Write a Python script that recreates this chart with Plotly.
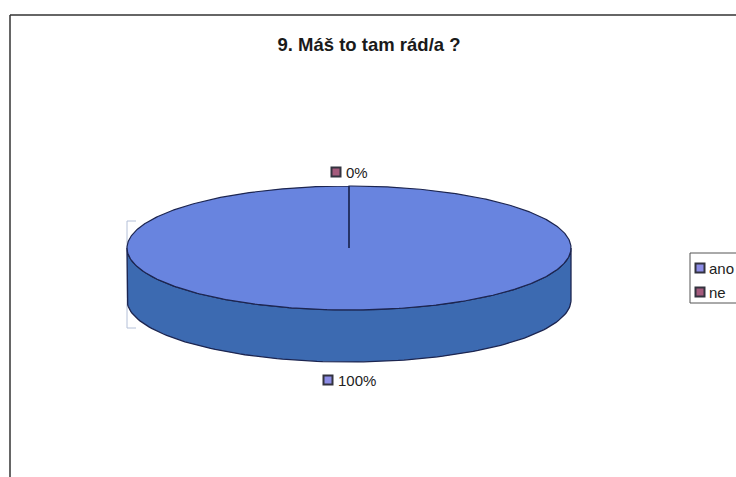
import numpy as np
import plotly.graph_objects as go

# survey answers
labels = ["ano", "ne"]
values = [100, 0]
title_text = "9. Máš to tam rád/a ?"

# slice styling
top_colors = ["#6884df", "#993366"]
side_colors = ["#3c6ab1", "#6a2347"]
key_colors = ["#8c8ce6", "#a45a7c"]
edge_color = "#1c2550"
font_family = "Liberation Sans, Arial"

W, H = 736, 477
cx, cy = 349, 248      # centre of the pie's top face (px)
rx, ry = 222, 62       # ellipse radii of the tilted disc
depth = 52             # thickness of the disc


def pt(theta_deg, dy=0.0):
    """Point on the rim, angle measured clockwise from 12 o'clock."""
    t = np.radians(theta_deg)
    return cx + rx * np.sin(t), cy - ry * np.cos(t) + dy


def key_marker(x, y, color):
    return go.Scatter(
        x=[x], y=[y], mode="markers",
        marker=dict(symbol="square", size=9, color=color,
                    line=dict(color="#33333f", width=2)),
        hoverinfo="skip", showlegend=False)


fig = go.Figure()

total = float(sum(values))
angles = np.cumsum([0] + [v / total * 360 for v in values])

# side walls (only the front half of the rim is visible)
for i, lab in enumerate(labels):
    a0, a1 = angles[i], angles[i + 1]
    lo, hi = max(a0, 90), min(a1, 270)
    if hi <= lo:
        continue
    th = np.linspace(lo, hi, 120)
    xs_top, ys_top = pt(th)
    xs_bot, ys_bot = pt(th[::-1], depth)
    xs = np.concatenate([xs_top, xs_bot, xs_top[:1]])
    ys = np.concatenate([ys_top, ys_bot, ys_top[:1]])
    fig.add_trace(go.Scatter(
        x=xs, y=ys, mode="lines", fill="toself",
        fillcolor=side_colors[i],
        line=dict(color=edge_color, width=1.3),
        hoverinfo="skip", showlegend=False))

# top faces of the slices
for i, lab in enumerate(labels):
    a0, a1 = angles[i], angles[i + 1]
    th = np.linspace(a0, a1, max(2, int((a1 - a0) * 1.5)))
    xs, ys = pt(th)
    xs = np.concatenate([[cx], xs, [cx]])
    ys = np.concatenate([[cy], ys, [cy]])
    fig.add_trace(go.Scatter(
        x=xs, y=ys, mode="lines", fill="toself",
        fillcolor=top_colors[i],
        line=dict(color=edge_color, width=1.2),
        hoverinfo="skip", showlegend=False))

# percentage labels placed outside each slice's middle
annotations = []
for i, lab in enumerate(labels):
    mid = (angles[i] + angles[i + 1]) / 2
    pct = "{:.0f}%".format(values[i] / total * 100)
    c = np.cos(np.radians(mid))
    ly = cy - ry - 14 if c >= 0 else cy + ry + depth + 18
    text_w = 8.0 * len(pct)
    kx = cx + 4 - text_w / 2 - 9
    fig.add_trace(key_marker(kx, ly, key_colors[i]))
    annotations.append(dict(
        x=kx + 8, y=ly, xref="x", yref="y", text=pct, showarrow=False,
        xanchor="left", yanchor="middle",
        font=dict(family=font_family, size=15, color="#222222")))

# legend box with one key per answer
leg_x, leg_y, leg_row = 690, 253, 24
for i, lab in enumerate(labels):
    ry_i = leg_y + 15 + i * leg_row
    fig.add_trace(key_marker(leg_x + 10, ry_i, key_colors[i]))
    annotations.append(dict(
        x=leg_x + 17, y=ry_i, xref="x", yref="y", text=lab, showarrow=False,
        xanchor="left", yanchor="middle",
        font=dict(family=font_family, size=15, color="#222222")))

shapes = [
    # chart-area frame
    dict(type="line", x0=10, y0=15, x1=W, y1=15, xref="x", yref="y",
         line=dict(color="#333333", width=1.5)),
    dict(type="line", x0=10, y0=15, x1=10, y1=H, xref="x", yref="y",
         line=dict(color="#333333", width=1.5)),
    # plot-area corner marks
    dict(type="path", path="M 136 221 L 127 221 L 127 328 L 136 328",
         xref="x", yref="y", line=dict(color="#b4c0d8", width=1), layer="below"),
    # legend frame
    dict(type="rect", x0=leg_x, y0=leg_y, x1=W + 20, y1=leg_y + 50,
         xref="x", yref="y", line=dict(color="#555555", width=1),
         fillcolor="white", layer="below"),
]

fig.update_layout(
    width=W, height=H,
    margin=dict(l=0, r=0, t=0, b=0, autoexpand=False),
    paper_bgcolor="white", plot_bgcolor="white",
    xaxis=dict(range=[0, W], visible=False, fixedrange=True),
    yaxis=dict(range=[H, 0], visible=False, fixedrange=True),
    title=dict(text="<b>" + title_text + "</b>", x=369 / W, y=1 - 45 / H,
               xanchor="center", yanchor="middle",
               font=dict(family=font_family, size=18.5, color="#1a1a1a")),
    showlegend=False,
    shapes=shapes,
    annotations=annotations,
)

fig.write_html("out.html")
